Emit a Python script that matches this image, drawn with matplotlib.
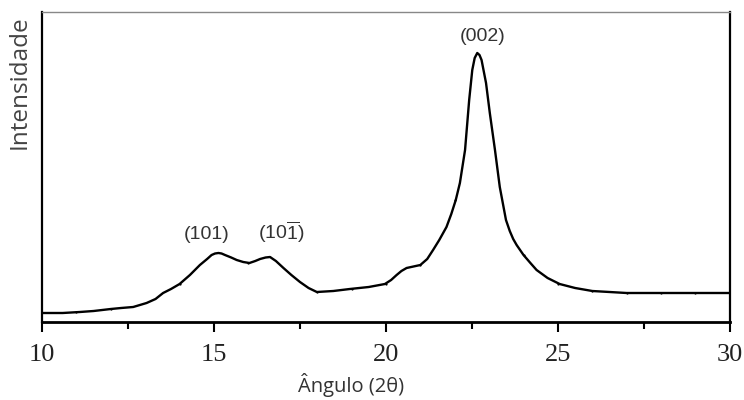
import matplotlib.pyplot as plt
import numpy as np

# curve (2theta, intensity in arbitrary units)
angle = [10.0, 10.6, 11.1, 11.5, 12.0, 12.3, 12.65, 13.04, 13.3, 13.52, 13.75, 14.0,
         14.3, 14.59, 14.8, 14.93, 15.03, 15.13, 15.22, 15.32, 15.5, 15.66, 15.85,
         16.03, 16.2, 16.34, 16.5, 16.63, 16.8, 17.02, 17.25, 17.5, 17.75, 17.99,
         18.47, 18.95, 19.5, 19.97, 20.15, 20.31, 20.45, 20.6, 20.8, 21.0, 21.2,
         21.37, 21.55, 21.76, 21.9, 22.03, 22.15, 22.3, 22.42, 22.51, 22.58, 22.655,
         22.72, 22.78, 22.91, 23.02, 23.17, 23.31, 23.49, 23.6, 23.7, 23.8, 23.9,
         24.0, 24.2, 24.38, 24.7, 25.05, 25.5, 26.0, 26.5, 27.0, 28.0, 29.0, 30.0]
intensity = [9, 9, 10, 11, 13, 14, 15, 19, 23, 29, 33, 38,
             47, 57, 63, 67, 68.5, 69, 68.5, 67, 64.5, 62, 60,
             59, 61, 63, 64.5, 65, 61, 54, 47, 40, 34, 30,
             31, 33, 35, 38, 42, 47, 51, 54, 55.5, 57, 63,
             72, 82, 95, 108, 122, 139, 172, 222, 252, 264, 269,
             267, 262, 239, 209, 172, 135, 102, 91, 83, 77, 72,
             67, 59, 52, 44, 38, 34, 31, 30, 29, 29, 29, 29]

# measured points shown as small dots
dot_angle = [11, 12, 14, 16, 18, 19, 20, 21, 22, 24, 25, 26, 27, 28, 29]
dot_int = [10, 13, 38, 59, 30, 33, 38, 57, 122, 67, 38, 31, 29, 29, 29]

peaks = [(14.8, 83, '(101)'), (16.95, 83, r'(10$\overline{1}$)'), (22.82, 281, '(002)')]

plt.rcParams['mathtext.fontset'] = 'custom'
plt.rcParams['mathtext.rm'] = 'Liberation Sans'
plt.rcParams['mathtext.it'] = 'Liberation Sans:italic'

fig = plt.figure(figsize=(7.44, 4.0), dpi=100)
ax = fig.add_axes([0.0565, 0.195, 0.9245, 0.775])

ax.plot(angle, intensity, color='black', lw=1.7, solid_joinstyle='round')
ax.plot(dot_angle, dot_int, 'o', color='black', ms=1.6, mew=0)

for x, y, txt in peaks:
    ax.text(x, y, txt, ha='center', va='baseline', fontsize=14,
            family='Liberation Sans', color='#333333')

ax.set_xlim(10, 30)
ax.set_ylim(0, 310)
ax.set_yticks([])
ax.set_xticks([10, 15, 20, 25, 30])
ax.set_xticks([12.5, 17.5, 22.5, 27.5], minor=True)
ax.tick_params(axis='x', which='major', direction='out', length=7, width=1.5,
               pad=9, labelsize=19, colors='black')
ax.tick_params(axis='x', which='minor', direction='out', length=5, width=1.5)
for lab in ax.get_xticklabels():
    lab.set_family('Liberation Serif')
    lab.set_color('#222222')

for s in ['left', 'right']:
    ax.spines[s].set_linewidth(1.6)
ax.spines['bottom'].set_linewidth(2.0)
ax.spines['top'].set_linewidth(1.0)
ax.spines['top'].set_color('#888888')

ax.set_xlabel('Ângulo (2θ)', family='Open Sans', fontsize=14.5, color='#333333')
ax.xaxis.set_label_coords(0.449, -0.165)
ax.set_ylabel('Intensidade', family='Open Sans', fontsize=17.5, color='#444444')
ax.yaxis.set_label_coords(-0.015, 0.775)

fig.savefig('out.png', dpi=100)
